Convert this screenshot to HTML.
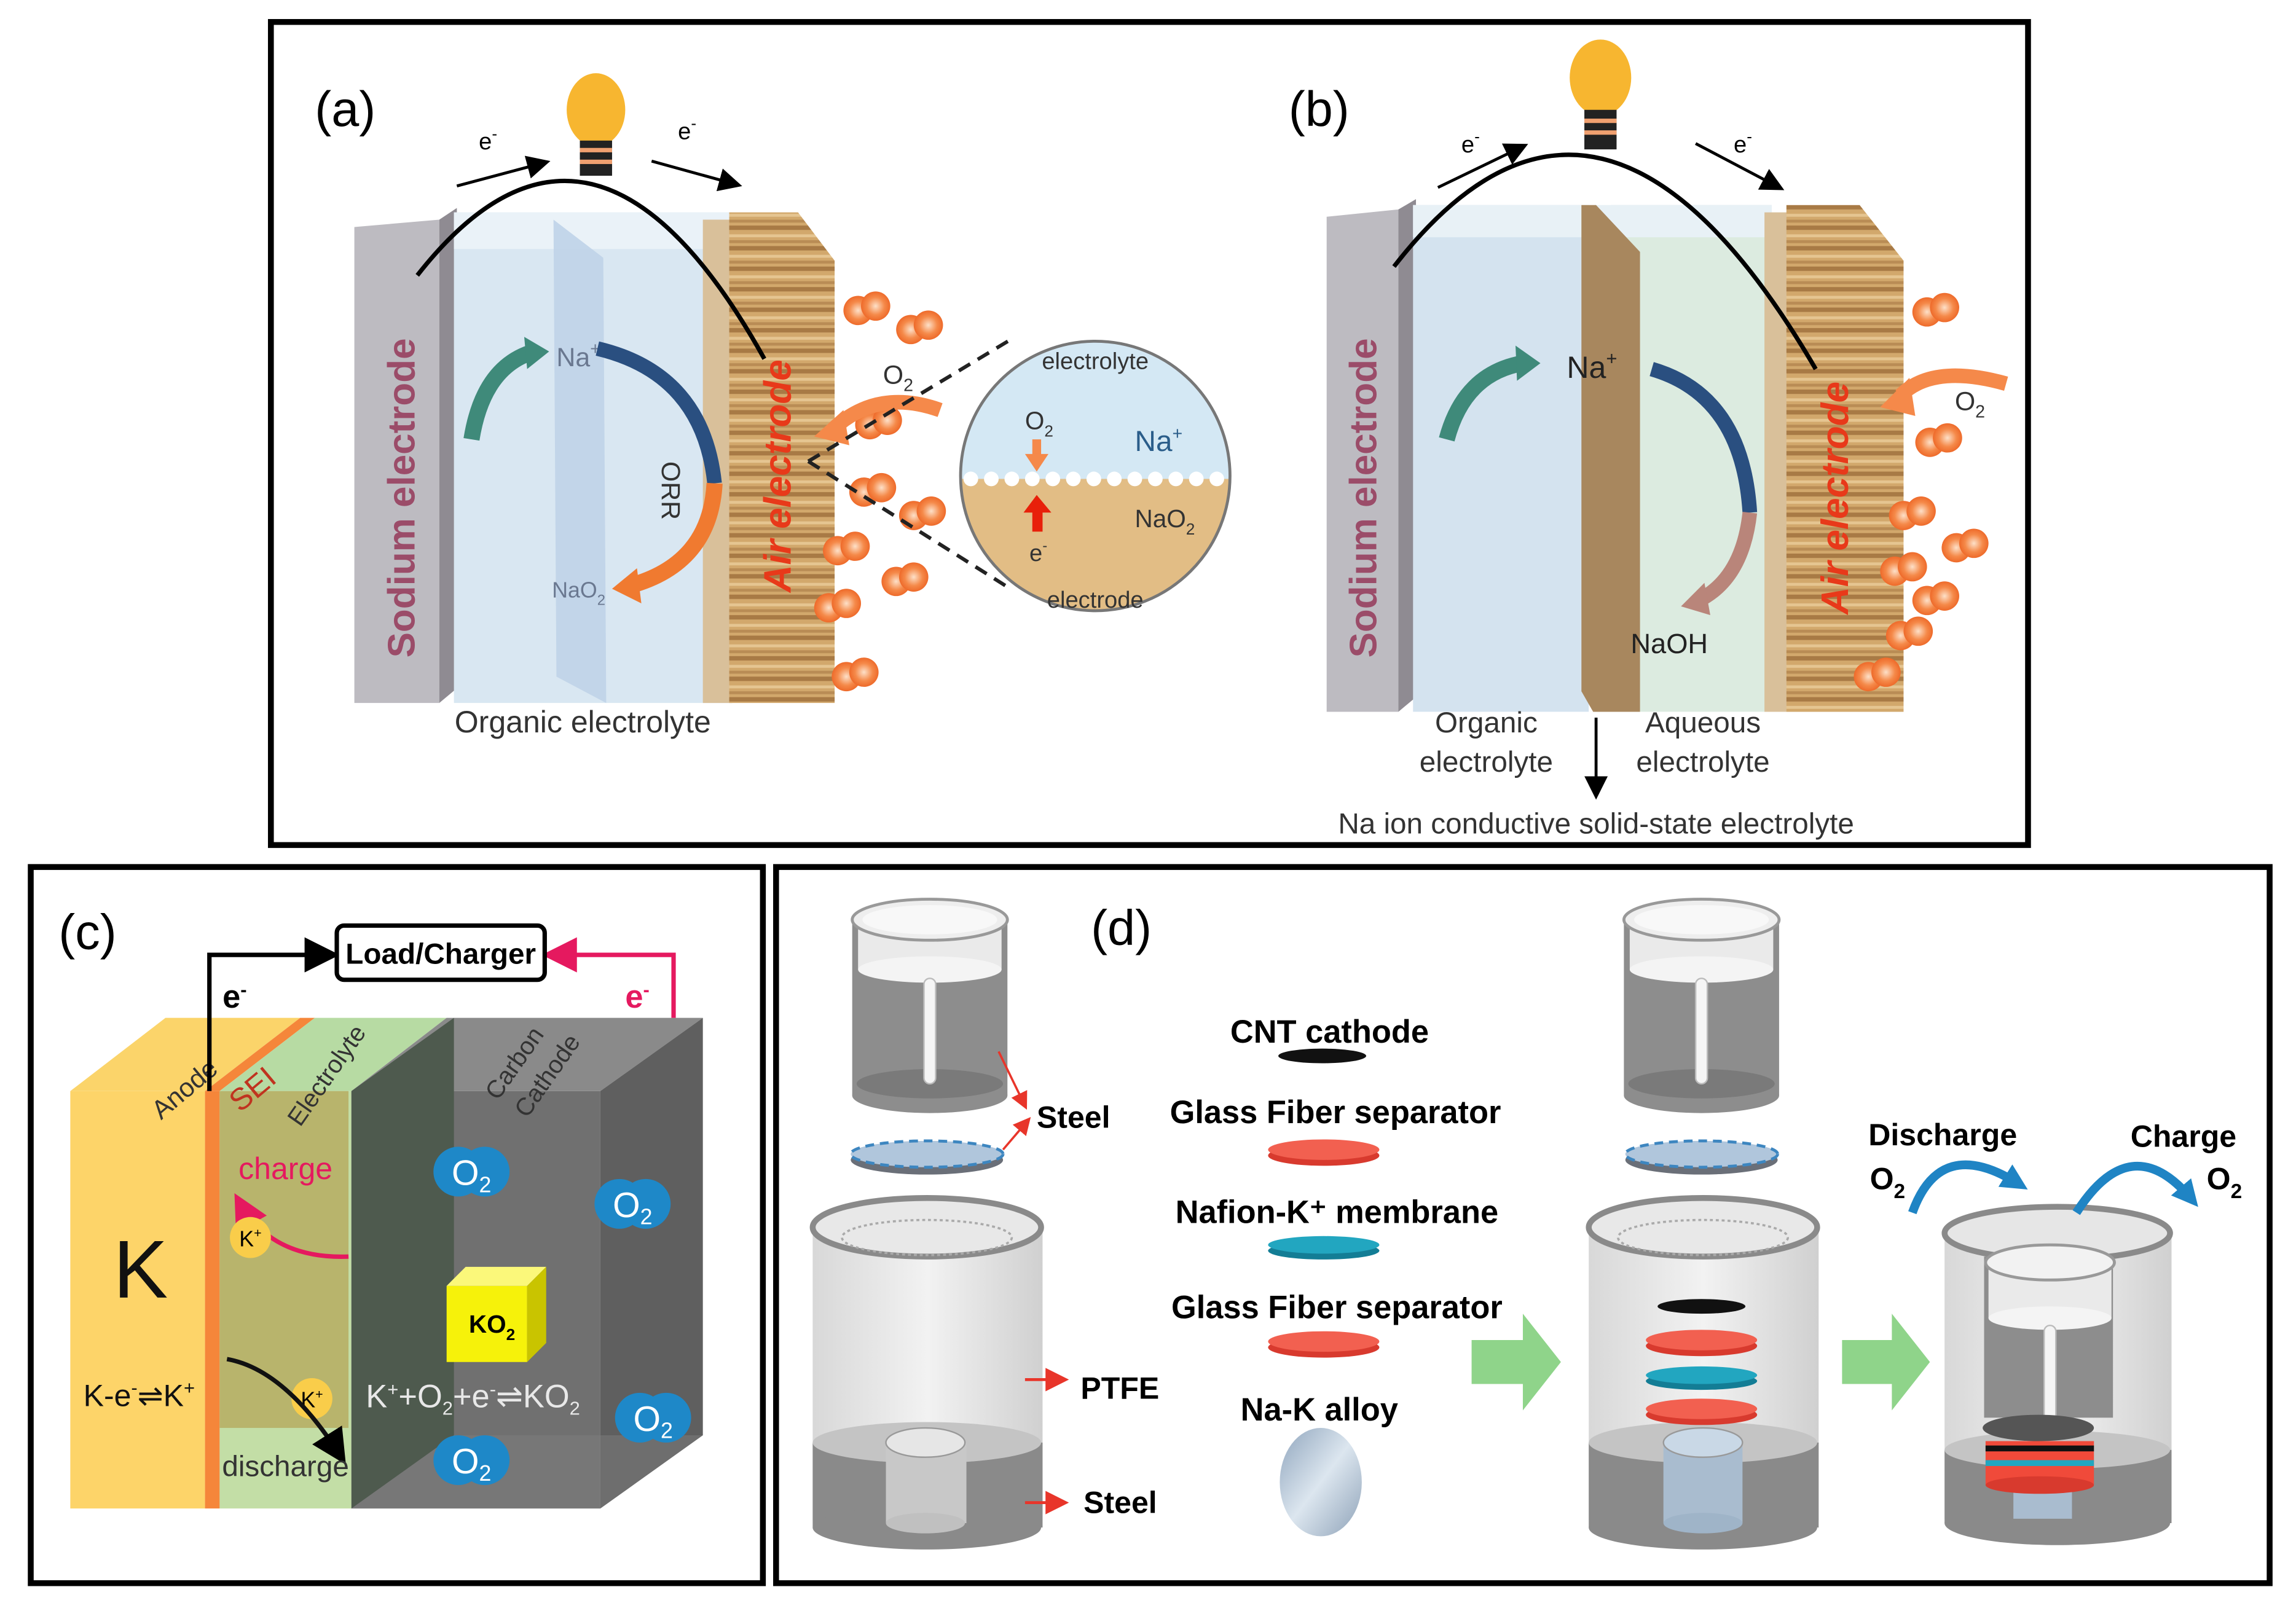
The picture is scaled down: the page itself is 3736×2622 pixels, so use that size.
<!DOCTYPE html>
<html><head><meta charset="utf-8">
<style>
html,body{margin:0;padding:0;background:#fff;}
svg{display:block;}
text{font-family:"Liberation Sans",sans-serif;}
.n{font-family:"Liberation Sans Narrow","Liberation Sans",sans-serif;}
</style></head>
<body>
<svg width="3736" height="2622" viewBox="0 0 1568 1100" preserveAspectRatio="none" xmlns="http://www.w3.org/2000/svg">
<defs>
<pattern id="wood" width="20" height="14" patternUnits="userSpaceOnUse">
<rect width="20" height="14" fill="#d2a86c"/>
<rect y="0" width="20" height="3" fill="#a87a45"/>
<rect y="6" width="20" height="2" fill="#e5c591"/>
<rect y="10" width="20" height="2" fill="#b98c55"/>
</pattern>
<radialGradient id="o2g" cx="0.5" cy="0.5" r="0.5"><stop offset="0" stop-color="#fde0c8"/><stop offset="0.6" stop-color="#f58a4a"/><stop offset="1" stop-color="#ee6a2a"/></radialGradient>
<linearGradient id="cylg" x1="0" x2="1"><stop offset="0" stop-color="#d8d8d8"/><stop offset="0.5" stop-color="#f2f2f2"/><stop offset="1" stop-color="#d0d0d0"/></linearGradient>
<linearGradient id="alloy" x1="0" y1="0" x2="1" y2="1"><stop offset="0" stop-color="#8fa5bd"/><stop offset="0.5" stop-color="#dce6ef"/><stop offset="1" stop-color="#8ea2b8"/></linearGradient>
<marker id="ah" markerWidth="8" markerHeight="8" refX="6" refY="4" orient="auto"><path d="M0,0 L8,4 L0,8 z" fill="#000"/></marker>
<marker id="ahr" markerWidth="8" markerHeight="8" refX="6" refY="4" orient="auto"><path d="M0,0 L8,4 L0,8 z" fill="#e8352a"/></marker>
<marker id="ahp" markerWidth="8" markerHeight="8" refX="6" refY="4" orient="auto"><path d="M0,0 L8,4 L0,8 z" fill="#e5195f"/></marker>
<marker id="ahb" markerUnits="userSpaceOnUse" markerWidth="18" markerHeight="18" refX="10" refY="9" orient="auto"><path d="M0,0 L18,9 L0,18 z" fill="#1f84c4"/></marker>
<g id="o2"><circle cx="-6" cy="0" r="10" fill="url(#o2g)"/><circle cx="6" cy="-3" r="10" fill="url(#o2g)"/></g>
<g id="bo2"><circle cx="-9" cy="0" r="17" fill="#1e88c8"/><circle cx="9" cy="0" r="17" fill="#1e88c8"/><text x="0" y="9" font-size="24" fill="#fff" text-anchor="middle">O<tspan font-size="15" dy="5">2</tspan></text></g>
</defs>

<!-- ===== Panel a/b frame ===== -->
<rect x="185" y="15" width="1200" height="562" fill="#fff" stroke="#000" stroke-width="4"/>

<!-- Panel a -->
<text x="215" y="86" font-size="34">(a)</text>
<ellipse cx="407" cy="75" rx="20" ry="25" fill="#f7b630"/>
<rect x="396" y="96" width="22" height="24" fill="#222"/>
<rect x="396" y="101" width="22" height="3" fill="#f0a070"/><rect x="396" y="109" width="22" height="3" fill="#f0a070"/>
<polygon points="242,155 300,150 300,480 242,480" fill="#bdbbc1"/>
<polygon points="300,150 312,142 312,470 300,480" fill="#8f8b92"/>
<text transform="translate(283,340) rotate(-90)" font-size="26" fill="#9b4c69" text-anchor="middle" font-weight="bold">Sodium electrode</text>
<rect x="310" y="145" width="190" height="335" fill="#d9e7f2"/>
<rect x="310" y="145" width="190" height="25" fill="#eaf2f8"/>
<polygon points="378,150 412,176 414,480 380,462" fill="#bfd3e8" opacity="0.9"/>
<polygon points="480,150 500,150 500,480 480,480" fill="#d9c09a"/>
<polygon points="498,145 545,145 570,178 570,480 498,480" fill="url(#wood)"/>
<text transform="translate(540,325) rotate(-90)" font-size="26" fill="#e8391a" text-anchor="middle" font-weight="bold" font-style="italic">Air electrode</text>
<path d="M285,188 Q405,35 522,245" fill="none" stroke="#000" stroke-width="3"/>
<line x1="312" y1="127" x2="372" y2="111" stroke="#000" stroke-width="2" marker-end="url(#ah)"/>
<line x1="445" y1="110" x2="503" y2="126" stroke="#000" stroke-width="2" marker-end="url(#ah)"/>
<text x="327" y="102" font-size="16">e<tspan dy="-7" font-size="11">-</tspan></text>
<text x="463" y="95" font-size="16">e<tspan dy="-7" font-size="11">-</tspan></text>
<text x="380" y="250" font-size="18" fill="#6a7890">Na<tspan dy="-8" font-size="12">+</tspan></text>
<path d="M322,300 Q330,250 365,240" fill="none" stroke="#3f8a7a" stroke-width="11"/>
<polygon points="358,230 375,240 360,252" fill="#3f8a7a"/>
<path d="M408,238 Q480,255 488,330" fill="none" stroke="#2a4f80" stroke-width="10"/>
<path d="M488,330 Q485,385 430,400" fill="none" stroke="#f07a30" stroke-width="11"/>
<polygon points="435,388 418,402 438,412" fill="#f07a30"/>
<text transform="translate(452,315) rotate(90)" font-size="18" fill="#333">ORR</text>
<text x="377" y="408" font-size="15" fill="#6a7890">NaO<tspan dy="5" font-size="10">2</tspan></text>
<text x="398" y="500" font-size="21" fill="#333" text-anchor="middle">Organic electrolyte</text>
<use href="#o2" x="592" y="212"/><use href="#o2" x="628" y="225"/><use href="#o2" x="600" y="290"/>
<use href="#o2" x="596" y="336"/><use href="#o2" x="630" y="352"/><use href="#o2" x="578" y="376"/>
<use href="#o2" x="618" y="397"/><use href="#o2" x="572" y="415"/><use href="#o2" x="584" y="462"/>
<text x="603" y="262" font-size="18" fill="#333">O<tspan dy="5" font-size="12">2</tspan></text>
<path d="M642,280 Q600,265 570,292" fill="none" stroke="#f5894a" stroke-width="10"/>
<polygon points="576,280 556,298 580,304" fill="#f5894a"/>
<line x1="552" y1="315" x2="690" y2="232" stroke="#222" stroke-width="2.5" stroke-dasharray="9,6"/>
<line x1="552" y1="315" x2="690" y2="402" stroke="#222" stroke-width="2.5" stroke-dasharray="9,6"/>
<clipPath id="cc"><circle cx="748" cy="325" r="92"/></clipPath>
<g clip-path="url(#cc)">
<rect x="650" y="230" width="200" height="97" fill="#d4e8f4"/>
<rect x="650" y="327" width="200" height="100" fill="#e2bd85"/>
</g>
<circle cx="748" cy="325" r="92" fill="none" stroke="#777" stroke-width="2"/>
<g fill="#fff">
<circle cx="663" cy="327" r="5"/><circle cx="677" cy="327" r="5"/><circle cx="691" cy="327" r="5"/><circle cx="705" cy="327" r="5"/><circle cx="719" cy="327" r="5"/><circle cx="733" cy="327" r="5"/><circle cx="747" cy="327" r="5"/><circle cx="761" cy="327" r="5"/><circle cx="775" cy="327" r="5"/><circle cx="789" cy="327" r="5"/><circle cx="803" cy="327" r="5"/><circle cx="817" cy="327" r="5"/><circle cx="831" cy="327" r="5"/>
</g>
<text x="748" y="252" font-size="16" fill="#333" text-anchor="middle">electrolyte</text>
<text x="700" y="293" font-size="17" fill="#333">O<tspan dy="5" font-size="11">2</tspan></text>
<text x="775" y="308" font-size="20" fill="#2a5d8a">Na<tspan dy="-8" font-size="12">+</tspan></text>
<rect x="705" y="300" width="6" height="12" fill="#f5894a"/><polygon points="700,310 716,310 708,322" fill="#f5894a"/>
<rect x="705" y="348" width="7" height="15" fill="#e8200a"/><polygon points="699,350 718,350 708,338" fill="#e8200a"/>
<text x="775" y="360" font-size="17" fill="#333">NaO<tspan dy="5" font-size="11">2</tspan></text>
<text x="703" y="383" font-size="16" fill="#333">e<tspan dy="-7" font-size="10">-</tspan></text>
<text x="748" y="415" font-size="16" fill="#333" text-anchor="middle">electrode</text>

<!-- Panel b -->
<text x="880" y="86" font-size="34">(b)</text>
<ellipse cx="1093" cy="53" rx="21" ry="26" fill="#f7b630"/>
<rect x="1082" y="75" width="22" height="27" fill="#222"/>
<rect x="1082" y="81" width="22" height="3" fill="#f0a070"/><rect x="1082" y="89" width="22" height="3" fill="#f0a070"/>
<polygon points="906,148 955,143 955,486 906,486" fill="#bdbbc1"/>
<polygon points="955,143 967,136 967,476 955,486" fill="#8f8b92"/>
<text transform="translate(940,340) rotate(-90)" font-size="26" fill="#9b4c69" text-anchor="middle" font-weight="bold">Sodium electrode</text>
<rect x="965" y="140" width="120" height="346" fill="#d4e3ef"/>
<rect x="1100" y="140" width="110" height="346" fill="#dcebe0"/>
<rect x="965" y="140" width="245" height="22" fill="#e8f1f6"/>
<polygon points="1080,140 1090,140 1120,172 1120,486 1088,486 1080,472" fill="#a8875e"/>
<polygon points="1205,145 1222,145 1222,486 1205,486" fill="#d9c09a"/>
<polygon points="1220,140 1270,140 1300,178 1300,486 1220,486" fill="url(#wood)"/>
<text transform="translate(1262,340) rotate(-90)" font-size="26" fill="#e8391a" text-anchor="middle" font-weight="bold" font-style="italic">Air electrode</text>
<path d="M952,182 Q1093,0 1240,252" fill="none" stroke="#000" stroke-width="3"/>
<line x1="982" y1="128" x2="1040" y2="100" stroke="#000" stroke-width="2" marker-end="url(#ah)"/>
<line x1="1158" y1="98" x2="1215" y2="128" stroke="#000" stroke-width="2" marker-end="url(#ah)"/>
<text x="998" y="104" font-size="16">e<tspan dy="-7" font-size="11">-</tspan></text>
<text x="1184" y="104" font-size="16">e<tspan dy="-7" font-size="11">-</tspan></text>
<text x="1070" y="258" font-size="21" fill="#222">Na<tspan dy="-9" font-size="13">+</tspan></text>
<path d="M988,300 Q1000,255 1040,248" fill="none" stroke="#3f8a7a" stroke-width="11"/>
<polygon points="1035,236 1052,248 1036,260" fill="#3f8a7a"/>
<path d="M1128,252 Q1190,270 1195,350" fill="none" stroke="#2a4f80" stroke-width="10"/>
<path d="M1195,350 Q1190,395 1160,410" fill="none" stroke="#b9857a" stroke-width="10"/>
<polygon points="1164,398 1148,414 1168,420" fill="#b9857a"/>
<text x="1140" y="446" font-size="19" fill="#222" text-anchor="middle">NaOH</text>
<use href="#o2" x="1322" y="213"/><use href="#o2" x="1324" y="302"/><use href="#o2" x="1306" y="352"/>
<use href="#o2" x="1342" y="374"/><use href="#o2" x="1300" y="390"/><use href="#o2" x="1322" y="410"/>
<use href="#o2" x="1304" y="434"/><use href="#o2" x="1282" y="462"/>
<text x="1335" y="280" font-size="18" fill="#333">O<tspan dy="5" font-size="12">2</tspan></text>
<path d="M1370,262 Q1320,248 1298,270" fill="none" stroke="#f5894a" stroke-width="10"/>
<polygon points="1304,258 1284,278 1308,284" fill="#f5894a"/>
<text x="1015" y="500" font-size="20" fill="#333" text-anchor="middle">Organic</text>
<text x="1015" y="527" font-size="20" fill="#333" text-anchor="middle">electrolyte</text>
<text x="1163" y="500" font-size="20" fill="#333" text-anchor="middle">Aqueous</text>
<text x="1163" y="527" font-size="20" fill="#333" text-anchor="middle">electrolyte</text>
<line x1="1090" y1="490" x2="1090" y2="542" stroke="#000" stroke-width="2" marker-end="url(#ah)"/>
<text x="1090" y="569" font-size="20" fill="#333" text-anchor="middle">Na ion conductive solid-state electrolyte</text>

<!-- ===== Panel c ===== -->
<rect x="21" y="592" width="500" height="489" fill="#fff" stroke="#000" stroke-width="4"/>
<text x="40" y="648" font-size="34">(c)</text>
<polygon points="48,745 140,745 205,695 113,695" fill="#fbd46a"/>
<polygon points="140,745 150,745 215,695 205,695" fill="#f5863a"/>
<polygon points="150,745 240,745 305,695 215,695" fill="#b7dba3"/>
<polygon points="240,745 410,745 480,695 305,695" fill="#8a8a8a"/>
<rect x="48" y="745" width="92" height="285" fill="#fdd469"/>
<rect x="140" y="745" width="10" height="285" fill="#f5863a"/>
<rect x="150" y="745" width="90" height="285" fill="#c3dea6"/>
<rect x="150" y="745" width="88" height="230" fill="#b8b46c"/>
<rect x="240" y="745" width="170" height="285" fill="#707070"/>
<polygon points="240,745 310,695 310,980 240,1030" fill="#4e5a4e"/>
<polygon points="410,745 480,695 480,980 410,1030" fill="#5f5f5f"/>
<polygon points="240,1030 410,1030 480,980 310,980" fill="#7d7d7d" opacity="0.5"/>
<text transform="translate(110,765) rotate(-40)" font-size="18" fill="#333">Anode</text>
<text transform="translate(164,760) rotate(-40)" font-size="21" fill="#c0331f">SEI</text>
<text transform="translate(205,770) rotate(-55)" font-size="17" fill="#333">Electrolyte</text>
<text transform="translate(340,752) rotate(-55)" font-size="17" fill="#333">Carbon</text>
<text transform="translate(360,764) rotate(-55)" font-size="17" fill="#333">Cathode</text>
<text x="96" y="886" font-size="56" text-anchor="middle" fill="#111">K</text>
<text x="95" y="960" font-size="21" text-anchor="middle" fill="#111">K-e<tspan dy="-8" font-size="13">-</tspan><tspan dy="8">⇌K</tspan><tspan dy="-8" font-size="13">+</tspan></text>
<text x="195" y="805" font-size="21" text-anchor="middle" fill="#e5195f">charge</text>
<path d="M238,858 Q185,860 163,820" fill="none" stroke="#e5195f" stroke-width="3" marker-end="url(#ahp)"/>
<circle cx="171" cy="845" r="14" fill="#f9cd4a"/><text x="171" y="851" font-size="15" text-anchor="middle">K<tspan dy="-6" font-size="9">+</tspan></text>
<circle cx="213" cy="955" r="14" fill="#f9cd4a"/><text x="213" y="961" font-size="15" text-anchor="middle">K<tspan dy="-6" font-size="9">+</tspan></text>
<path d="M155,928 Q195,935 233,995" fill="none" stroke="#111" stroke-width="3" marker-end="url(#ah)"/>
<text x="195" y="1008" font-size="20" text-anchor="middle" fill="#333">discharge</text>
<use href="#bo2" x="322" y="800"/><use href="#bo2" x="432" y="822"/><use href="#bo2" x="322" y="997"/><use href="#bo2" x="446" y="968"/>
<polygon points="305,878 360,878 360,930 305,930" fill="#f6f20a"/>
<polygon points="305,878 318,865 373,865 360,878" fill="#fbf87a"/>
<polygon points="360,878 373,865 373,917 360,930" fill="#c9c400"/>
<text x="336" y="910" font-size="17" text-anchor="middle" font-weight="bold">KO<tspan dy="5" font-size="11">2</tspan></text>
<text x="323" y="961" font-size="22" text-anchor="middle" fill="#e8e8e8">K<tspan dy="-8" font-size="13">+</tspan><tspan dy="8">+O</tspan><tspan dy="5" font-size="13">2</tspan><tspan dy="-5">+e</tspan><tspan dy="-8" font-size="13">-</tspan><tspan dy="8">⇌KO</tspan><tspan dy="5" font-size="13">2</tspan></text>
<path d="M143,745 V652 H226" fill="none" stroke="#000" stroke-width="3" marker-end="url(#ah)"/>
<path d="M460,695 V652 H376" fill="none" stroke="#e5195f" stroke-width="3" marker-end="url(#ahp)"/>
<rect x="230" y="632" width="142" height="37" rx="5" fill="#fff" stroke="#000" stroke-width="3"/>
<text x="301" y="658" font-size="20" text-anchor="middle" font-weight="bold" class="n">Load/Charger</text>
<text x="152" y="688" font-size="22" font-weight="bold">e<tspan dy="-8" font-size="13">-</tspan></text>
<text x="427" y="688" font-size="22" font-weight="bold" fill="#e5195f">e<tspan dy="-8" font-size="13">-</tspan></text>

<!-- ===== Panel d ===== -->
<rect x="530" y="592" width="1020" height="489" fill="#fff" stroke="#000" stroke-width="4"/>
<text x="745" y="645" font-size="34">(d)</text>
<g id="cap">
<rect x="582" y="628" width="106" height="120" fill="#8d8d8d"/>
<ellipse cx="635" cy="748" rx="53" ry="12" fill="#8d8d8d"/>
<ellipse cx="635" cy="740" rx="50" ry="10" fill="#7a7a7a"/>
<rect x="586" y="628" width="98" height="34" fill="#eaeaea"/>
<ellipse cx="635" cy="662" rx="49" ry="9" fill="#f4f4f4"/>
<ellipse cx="635" cy="628" rx="53" ry="14" fill="#eeeeee" stroke="#999" stroke-width="2"/>
<ellipse cx="635" cy="628" rx="46" ry="10" fill="#f8f8f8"/>
<rect x="631" y="668" width="8" height="72" rx="4" fill="#f5f5f5" stroke="#bbb"/>
</g>
<ellipse cx="633" cy="792" rx="52" ry="10" fill="#6a6f78"/>
<ellipse cx="633" cy="788" rx="52" ry="9" fill="#b0c6dc" stroke="#3d86c0" stroke-width="2" stroke-dasharray="6,4"/>
<g id="bigcyl">
<rect x="555" y="838" width="157" height="200" fill="url(#cylg)"/>
<rect x="555" y="985" width="157" height="58" fill="#8a8a8a"/>
<ellipse cx="633" cy="1043" rx="78" ry="15" fill="#8a8a8a"/>
<ellipse cx="633" cy="985" rx="78" ry="14" fill="#c4c4c4"/>
<ellipse cx="633" cy="838" rx="78" ry="20" fill="#e8e8e8" stroke="#8a8a8a" stroke-width="4"/>
<ellipse cx="633" cy="845" rx="58" ry="12" fill="none" stroke="#aaa" stroke-width="1.5" stroke-dasharray="2,2"/>
</g>
<rect x="605" y="985" width="55" height="55" fill="#c8c8c8"/>
<ellipse cx="632" cy="1040" rx="27" ry="7" fill="#c0c0c0"/>
<ellipse cx="632" cy="985" rx="27" ry="10" fill="#e6e6e6" stroke="#999"/>
<line x1="682" y1="718" x2="700" y2="755" stroke="#e8352a" stroke-width="1.5" marker-end="url(#ahr)"/>
<line x1="685" y1="785" x2="702" y2="765" stroke="#e8352a" stroke-width="1.5" marker-end="url(#ahr)"/>
<text x="708" y="770" font-size="21" font-weight="bold" class="n">Steel</text>
<line x1="700" y1="942" x2="726" y2="942" stroke="#e8352a" stroke-width="2" marker-end="url(#ahr)"/>
<text x="738" y="955" font-size="21" font-weight="bold" class="n">PTFE</text>
<line x1="700" y1="1026" x2="726" y2="1026" stroke="#e8352a" stroke-width="2" marker-end="url(#ahr)"/>
<text x="740" y="1033" font-size="21" font-weight="bold" class="n">Steel</text>
<text x="908" y="712" font-size="22" font-weight="bold" text-anchor="middle" class="n">CNT cathode</text>
<ellipse cx="903" cy="721" rx="30" ry="5" fill="#111"/>
<text x="912" y="767" font-size="22" font-weight="bold" text-anchor="middle" class="n">Glass Fiber separator</text>
<ellipse cx="904" cy="789" rx="38" ry="7" fill="#d83a2e"/><ellipse cx="904" cy="785" rx="38" ry="7" fill="#f26050"/>
<text x="913" y="835" font-size="22" font-weight="bold" text-anchor="middle" class="n">Nafion-K⁺ membrane</text>
<ellipse cx="904" cy="854" rx="38" ry="6" fill="#137d95"/><ellipse cx="904" cy="850" rx="38" ry="6" fill="#22a6c0"/>
<text x="913" y="900" font-size="22" font-weight="bold" text-anchor="middle" class="n">Glass Fiber separator</text>
<ellipse cx="904" cy="920" rx="38" ry="7" fill="#d83a2e"/><ellipse cx="904" cy="916" rx="38" ry="7" fill="#f26050"/>
<text x="901" y="970" font-size="22" font-weight="bold" text-anchor="middle" class="n">Na-K alloy</text>
<ellipse cx="902" cy="1012" rx="28" ry="37" fill="url(#alloy)"/>
<polygon points="1005,915 1040,915 1040,897 1066,930 1040,963 1040,945 1005,945" fill="#8fd48a"/>
<polygon points="1258,915 1292,915 1292,897 1318,930 1292,963 1292,945 1258,945" fill="#8fd48a"/>
<use href="#cap" x="527" y="0"/>
<ellipse cx="1162" cy="792" rx="52" ry="10" fill="#6a6f78"/>
<ellipse cx="1162" cy="788" rx="52" ry="9" fill="#b0c6dc" stroke="#3d86c0" stroke-width="2" stroke-dasharray="6,4"/>
<use href="#bigcyl" x="530" y="0"/>
<rect x="1136" y="985" width="54" height="55" fill="#a9bccf"/>
<ellipse cx="1163" cy="1040" rx="27" ry="7" fill="#9fb4c8"/>
<ellipse cx="1163" cy="985" rx="27" ry="10" fill="#c9d8e6" stroke="#999"/>
<ellipse cx="1162" cy="892" rx="30" ry="5" fill="#111"/>
<ellipse cx="1162" cy="919" rx="38" ry="7" fill="#d83a2e"/><ellipse cx="1162" cy="915" rx="38" ry="7" fill="#f26050"/>
<ellipse cx="1162" cy="943" rx="38" ry="6" fill="#137d95"/><ellipse cx="1162" cy="939" rx="38" ry="6" fill="#22a6c0"/>
<ellipse cx="1162" cy="966" rx="38" ry="7" fill="#d83a2e"/><ellipse cx="1162" cy="962" rx="38" ry="7" fill="#f26050"/>
<!-- third assembly -->
<rect x="1328" y="842" width="155" height="195" fill="url(#cylg)"/>
<rect x="1328" y="990" width="155" height="50" fill="#8a8a8a"/>
<ellipse cx="1405" cy="1040" rx="77" ry="15" fill="#8a8a8a"/>
<ellipse cx="1405" cy="990" rx="77" ry="13" fill="#c4c4c4"/>
<rect x="1375" y="995" width="40" height="42" fill="#a9bccf"/>
<rect x="1355" y="858" width="88" height="110" fill="#8d8d8d"/>
<ellipse cx="1405" cy="842" rx="77" ry="18" fill="#e6e6e6" stroke="#8a8a8a" stroke-width="4"/>
<rect x="1358" y="862" width="84" height="38" fill="#eaeaea"/>
<ellipse cx="1400" cy="900" rx="42" ry="8" fill="#f4f4f4"/>
<ellipse cx="1400" cy="862" rx="44" ry="12" fill="#f2f2f2" stroke="#999" stroke-width="2"/>
<rect x="1396" y="905" width="8" height="65" rx="4" fill="#f5f5f5" stroke="#bbb"/>
<ellipse cx="1392" cy="975" rx="38" ry="9" fill="#555"/>
<rect x="1356" y="984" width="74" height="30" fill="#f04a3a"/>
<rect x="1356" y="987" width="74" height="4" fill="#111"/>
<rect x="1356" y="997" width="74" height="4" fill="#22a6c0"/>
<ellipse cx="1393" cy="1014" rx="37" ry="6" fill="#d83a2e"/>
<text x="1276" y="782" font-size="21" font-weight="bold" class="n">Discharge</text>
<text x="1277" y="812" font-size="21" font-weight="bold" class="n">O<tspan dy="6" font-size="14">2</tspan></text>
<text x="1455" y="783" font-size="21" font-weight="bold" class="n">Charge</text>
<text x="1507" y="812" font-size="21" font-weight="bold" class="n">O<tspan dy="6" font-size="14">2</tspan></text>
<path d="M1306,828 Q1325,775 1378,808" fill="none" stroke="#1f84c4" stroke-width="6" marker-end="url(#ahb)"/>
<path d="M1418,828 Q1455,770 1496,818" fill="none" stroke="#1f84c4" stroke-width="6" marker-end="url(#ahb)"/>
</svg>
</body></html>
